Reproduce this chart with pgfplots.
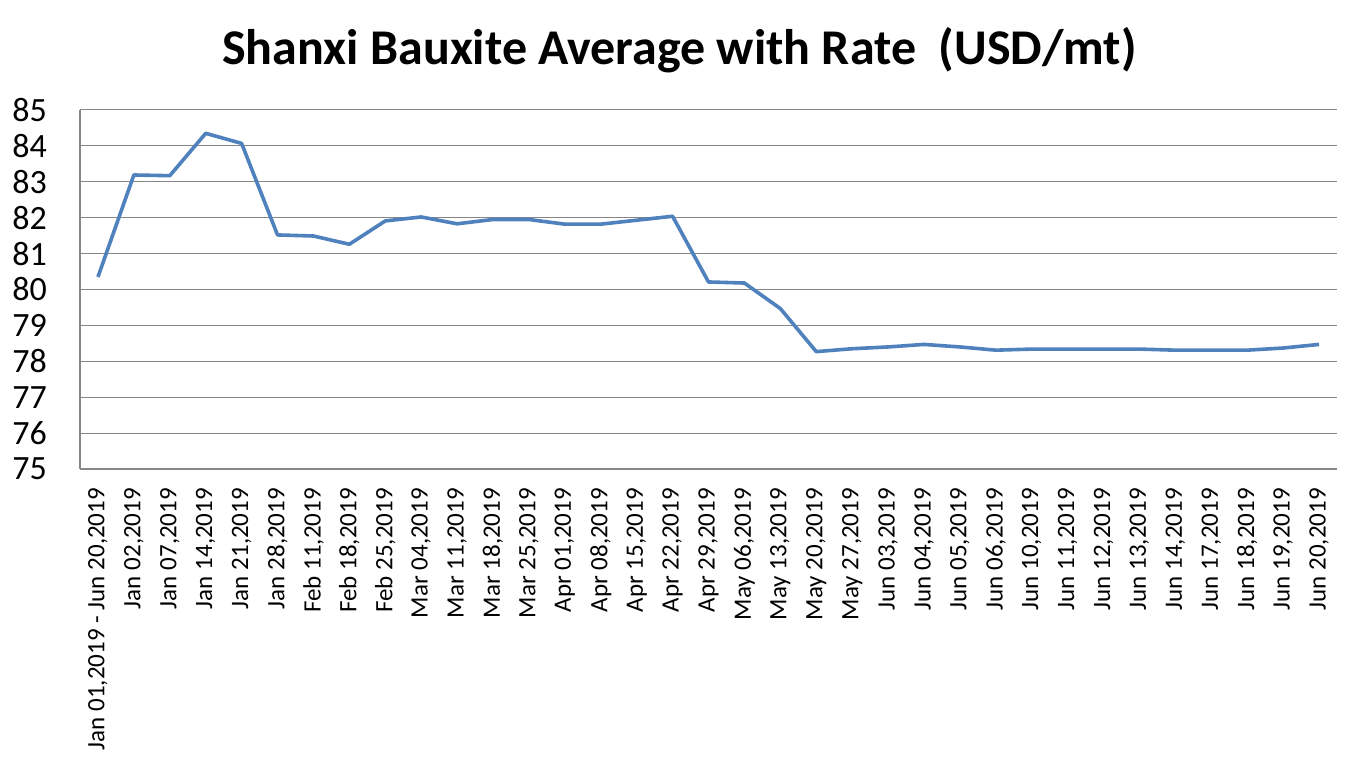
\documentclass[border=0pt]{standalone}
\usepackage{pgfplots}
\pgfplotsset{compat=1.18}
\usepackage{fontspec}
\setmainfont{Carlito}
\definecolor{lineblue}{HTML}{4F81BD}
\definecolor{gridgray}{HTML}{868686}
\begin{document}
\begin{tikzpicture}[x=1pt,y=1pt]
\path[use as bounding box] (0,0) rectangle (679.5,380.5);
\node[font=\bfseries\fontsize{25}{29}\selectfont] at (339.75,355.5) {Shanxi Bauxite Average with Rate\ \ (USD/mt)};
\begin{axis}[
  at={(40pt,146pt)}, anchor=south west,
  scale only axis, width=628.5pt, height=179.5pt,
  xmin=-0.5, xmax=34.5, ymin=75, ymax=85,
  ytick={75,76,...,85},
  xtick={0,...,34},
  xticklabels={{Jan 01,2019 - Jun 20,2019},{Jan 02,2019},{Jan 07,2019},{Jan 14,2019},{Jan 21,2019},{Jan 28,2019},{Feb 11,2019},{Feb 18,2019},{Feb 25,2019},{Mar 04,2019},{Mar 11,2019},{Mar 18,2019},{Mar 25,2019},{Apr 01,2019},{Apr 08,2019},{Apr 15,2019},{Apr 22,2019},{Apr 29,2019},{May 06,2019},{May 13,2019},{May 20,2019},{May 27,2019},{Jun 03,2019},{Jun 04,2019},{Jun 05,2019},{Jun 06,2019},{Jun 10,2019},{Jun 11,2019},{Jun 12,2019},{Jun 13,2019},{Jun 14,2019},{Jun 17,2019},{Jun 18,2019},{Jun 19,2019},{Jun 20,2019}},
  axis lines=left,
  axis line style={-, draw=gridgray, line width=0.6pt},
  ymajorgrids, major grid style={draw=gridgray, line width=0.5pt},
  major tick length=0pt,
  xticklabel style={rotate=90, anchor=east, font=\fontsize{12.5}{13}\selectfont, xshift=-6pt},
  yticklabel style={anchor=east, font=\fontsize{17}{18}\selectfont, xshift=-13pt},
  /pgf/number format/assume math mode=true,
  clip=false,
]
\addplot[lineblue, line width=1.8pt, line join=round] coordinates {
(0,80.35) (1,83.19) (2,83.17) (3,84.35) (4,84.07) (5,81.52) (6,81.49) (7,81.26)
(8,81.91) (9,82.02) (10,81.83) (11,81.95) (12,81.95) (13,81.82) (14,81.82)
(15,81.93) (16,82.04) (17,80.21) (18,80.18) (19,79.47) (20,78.27) (21,78.35)
(22,78.40) (23,78.47) (24,78.40) (25,78.31) (26,78.34) (27,78.34) (28,78.34)
(29,78.34) (30,78.31) (31,78.31) (32,78.31) (33,78.37) (34,78.47)
};
\end{axis}
\end{tikzpicture}
\end{document}
